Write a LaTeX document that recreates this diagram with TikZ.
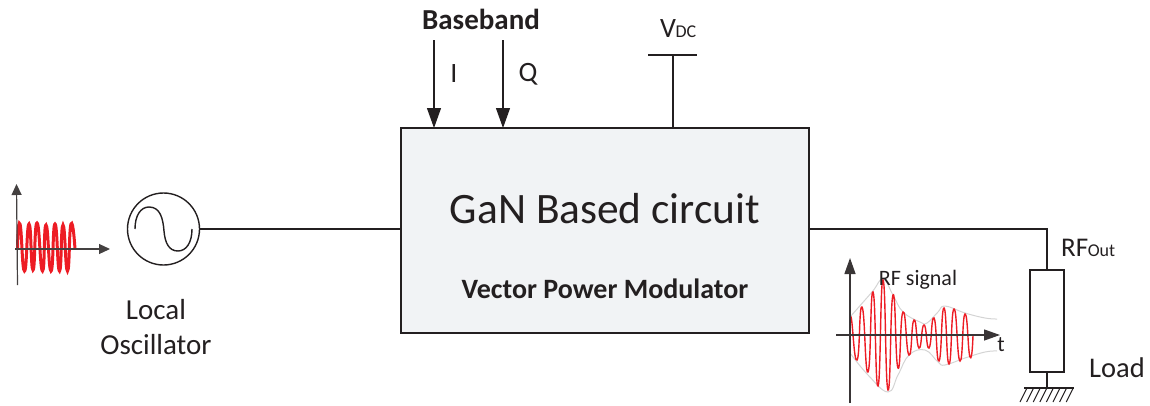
\documentclass[tikz,border=0pt]{standalone}
\usepackage{fontspec}
\setmainfont{Carlito}
\usetikzlibrary{arrows.meta}
\definecolor{ink}{HTML}{231F20}
\definecolor{boxfill}{HTML}{F1F3F5}
\definecolor{wave}{HTML}{ED1C24}
\definecolor{env}{HTML}{D4D4D4}
\tikzset{
  x=1pt,y=-1pt,
  wire/.style={draw=ink,line width=1.4pt},
  axis/.style={draw=ink!85!white,line width=1.2pt,-{Triangle[length=11pt,width=10pt]}},
  bigaxis/.style={draw=ink!90!white,line width=1.3pt,-{Triangle[length=16pt,width=11pt]}},
  feed/.style={draw=ink,line width=1.2pt,-{Triangle[length=20pt,width=14pt]}},
  lbl/.style={inner sep=0pt,text=ink,font=\fontsize{#1}{#1}\selectfont},
  lbl/.default=25,
}
\begin{document}
\begin{tikzpicture}
\useasboundingbox (0,0) rectangle (1150,405);
% main block
\node[draw=ink,line width=1.6pt,fill=boxfill,minimum width=408pt,minimum height=205pt,inner sep=0pt,outer sep=0pt] (box) at (605,230.5) {};
\node[lbl=43.4,anchor=base] (title) at (605,223) {GaN Based circuit};
\node[lbl=28,anchor=base,font=\fontsize{28}{28}\selectfont\bfseries] (sub) at (605,298) {Vector Power Modulator};
% baseband
\node[lbl=29,anchor=base,font=\fontsize{29}{29}\selectfont\bfseries] (bb) at (481,29) {Baseband};
\coordinate (iS) at (434,40);
\coordinate (qS) at (503,40);
\draw[feed] (iS) -- (iS |- box.north);
\draw[feed] (qS) -- (qS |- box.north);
\node[lbl=28,anchor=base] (il) at (454,82) {I};
\node[lbl=28,anchor=base] (ql) at (528,81) {Q};
% VDC
\coordinate (vT) at (673,55);
\coordinate (vL) at (648,55);
\coordinate (vR) at (697,55);
\draw[wire] (vT) -- (vT |- box.north);
\draw[draw=ink,line width=1.1pt] (vL) -- (vR);
\node[lbl=28,anchor=base west] (vdc) at (660,37) {V\kern-0.5pt{\fontsize{18}{18}\selectfont DC}};
% local oscillator
\node[circle,draw=ink,line width=1.4pt,minimum size=72pt,inner sep=0pt,outer sep=0pt] (lo) at (163.5,229) {};
\draw[draw=ink,line width=1.4pt] (135,229) .. controls (135,215) and (141,207) .. (149,207) .. controls (160,207) and (163,218) .. (164,231) .. controls (165,243) and (169,251) .. (178,251) .. controls (186,251) and (192,243) .. (192,229);
\draw[wire] (lo.east) -- (lo.east -| box.west);
\node[lbl=29,anchor=base] (lo1) at (156,319) {Local};
\node[lbl=29,anchor=base] (lo2) at (156,354) {Oscillator};
% LO signal
\draw[wave,line width=3pt] plot[smooth,tension=1] coordinates {(17.5,248)(20,224)(24.5,271)(29,224)(33,270)(37,223)(42.5,271)(46,225)(51,271)(55,224)(59.5,271)(63,225)(67.5,271)(71,224)(75,249)};
\draw[axis] (17.5,285) -- (16.5,184);
\draw[axis] (15,249) -- (110,249);
% output wire and load
\node[draw=ink,line width=1.2pt,minimum width=34pt,minimum height=102pt,inner sep=0pt,outer sep=0pt] (load) at (1047,321) {};
\coordinate (corner) at (load.north |- 809,229);
\draw[wire] (box.east |- corner) -- (corner) -- (load.north);
\coordinate (gnd) at (1047,388);
\coordinate (gL) at (1024,388);
\coordinate (gR) at (1074,388);
\draw[wire] (load.south) -- (gnd);
\draw[draw=ink,line width=1.2pt] (gL) -- (gR);
\foreach \i in {0,...,7} \draw[draw=ink,line width=1pt] (1027+\i*6.6,388) -- (1020+\i*6.6,402);
\node[lbl=27,anchor=base west] (rf) at (1061,256) {RF\kern-0.5pt{\fontsize{18}{18}\selectfont Out}};
\node[lbl=28.5,anchor=base west] (ll) at (1089,377) {Load};
% RF signal
\draw[env,line width=1pt] plot[smooth,tension=0.7] coordinates {(850,317)(872,292)(883,279)(893,295)(903,312)(920,322)(927,323)(938,312)(945,306)(965,313)(985,318)(997,319)};
\draw[env,line width=1pt] plot[smooth,tension=0.7] coordinates {(850,353)(868,375)(888,392)(898,375)(909,355)(925,350)(938,362)(945,365)(965,358)(985,352)(997,351)};
\draw[wave,line width=1.4pt] plot[smooth,tension=1] coordinates {(850,337)(851,317)(857,360)(862,307)(868,372)(873,292)(878,386)(883,280)(888,390)(893,295)(898,368)(903,312)(909,355)(914,320)(919,348)(924,325)(929,348)(934,318)(939,361)(944,308)(949,364)(954,309)(960,361)(965,314)(970,357)(973,335)};
\draw[bigaxis] (850,403) -- (850,258);
\draw[bigaxis] (836,335) -- (1000,335);
\node[lbl=22,anchor=base] (rfs) at (918,285) {RF signal};
\node[lbl=22,anchor=base] (t) at (1001,351) {t};
\end{tikzpicture}
\end{document}
